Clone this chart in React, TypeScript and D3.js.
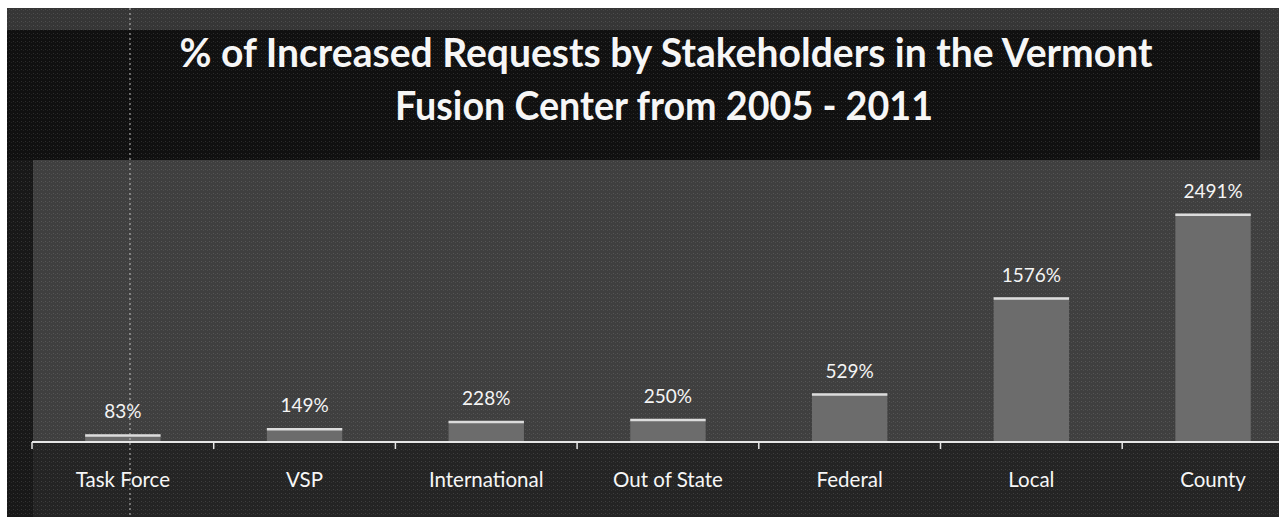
import React from "react";
import * as d3 from "d3";

const categories = ["Task Force", "VSP", "International", "Out of State", "Federal", "Local", "County"];
const values = [83, 149, 228, 250, 529, 1576, 2491];
const valueLabels = ["83%", "149%", "228%", "250%", "529%", "1576%", "2491%"];
const titleLines = [
  "% of Increased Requests by Stakeholders in the Vermont",
  "Fusion Center from 2005 - 2011",
];

const W = 1286;
const H = 517;

export default function App() {
  const x = d3
    .scaleBand<string>()
    .domain(categories)
    .range([32, 32 + 7 * 181.7])
    .paddingInner(0.585)
    .paddingOuter(0.2925);
  const y = d3.scaleLinear().domain([0, 3000]).range([442, 167]);
  const step = x.step();
  const bandStart = 32;
  const tickXs = d3.range(categories.length).map((i) => bandStart + i * step);
  const font = "Lato, 'Open Sans', 'DejaVu Sans', sans-serif";

  return (
    <svg
      width={W}
      height={H}
      style={{ position: "absolute", left: 0, top: 0, display: "block" }}
    >
      <defs>
        <pattern id="speck" width="4" height="4" patternUnits="userSpaceOnUse">
          <rect width="4" height="4" fill="none" />
          <rect x="1" y="1" width="1" height="1" fill="#ffffff" opacity="0.12" />
          <rect x="3" y="2" width="1" height="1" fill="#ffffff" opacity="0.07" />
        </pattern>
      </defs>
      <rect x={0} y={0} width={W} height={H} fill="#ffffff" />
      {/* outer frame */}
      <rect x={7} y={8} width={1272} height={H - 8} fill="#363636" />
      {/* title interior */}
      <rect x={7} y={30} width={1253} height={130} fill="#101010" />
      {/* left strip */}
      <rect x={7} y={160} width={26} height={H - 160} fill="#181818" />
      {/* plot area */}
      <rect x={33} y={160} width={1246} height={282} fill="#3f3f3f" />
      {/* area below axis */}
      <rect x={33} y={442} width={1246} height={H - 442} fill="#242424" />
      <rect x={7} y={8} width={1272} height={H - 8} fill="url(#speck)" />

      {/* title */}
      {titleLines.map((t, i) => (
        <text
          key={t}
          x={i === 0 ? 666 : 664}
          y={i === 0 ? 67 : 120}
          textAnchor="middle"
          fill="#f6f6f6"
          fontFamily={font}
          fontWeight={700}
          fontSize={41}
          textLength={i === 0 ? 973 : 538}
          lengthAdjust="spacingAndGlyphs"
        >
          {t}
        </text>
      ))}

      {/* bars */}
      {categories.map((c, i) => {
        const bx = x(c) as number;
        const bw = x.bandwidth();
        const top = y(values[i]);
        return (
          <g key={c}>
            <rect x={bx} y={top} width={bw} height={y(0) - top} fill="#6c6c6c" />
            <line
              x1={bx}
              x2={bx + bw}
              y1={top + 1}
              y2={top + 1}
              stroke="#dcdcdc"
              strokeWidth={2.5}
            />
            <text
              x={bx + bw / 2}
              y={top - 16}
              textAnchor="middle"
              fill="#f4f4f4"
              fontFamily={font}
              fontSize={19}
            >
              {valueLabels[i]}
            </text>
            <text
              x={bx + bw / 2}
              y={487}
              textAnchor="middle"
              fill="#f6f6f6"
              fontFamily={font}
              fontSize={20.5}
            >
              {c}
            </text>
          </g>
        );
      })}

      {/* axis */}
      <line x1={32} x2={1279} y1={442} y2={442} stroke="#e6e6e6" strokeWidth={2} />
      {tickXs.map((tx, i) => (
        <line key={i} x1={tx} x2={tx} y1={442} y2={449} stroke="#e6e6e6" strokeWidth={1.5} />
      ))}

      {/* scan artifact vertical streak */}
      <line
        x1={130}
        x2={130}
        y1={8}
        y2={H}
        stroke="#cfcfcf"
        strokeWidth={2}
        strokeDasharray="2 3"
        opacity={0.45}
      />
    </svg>
  );
}
